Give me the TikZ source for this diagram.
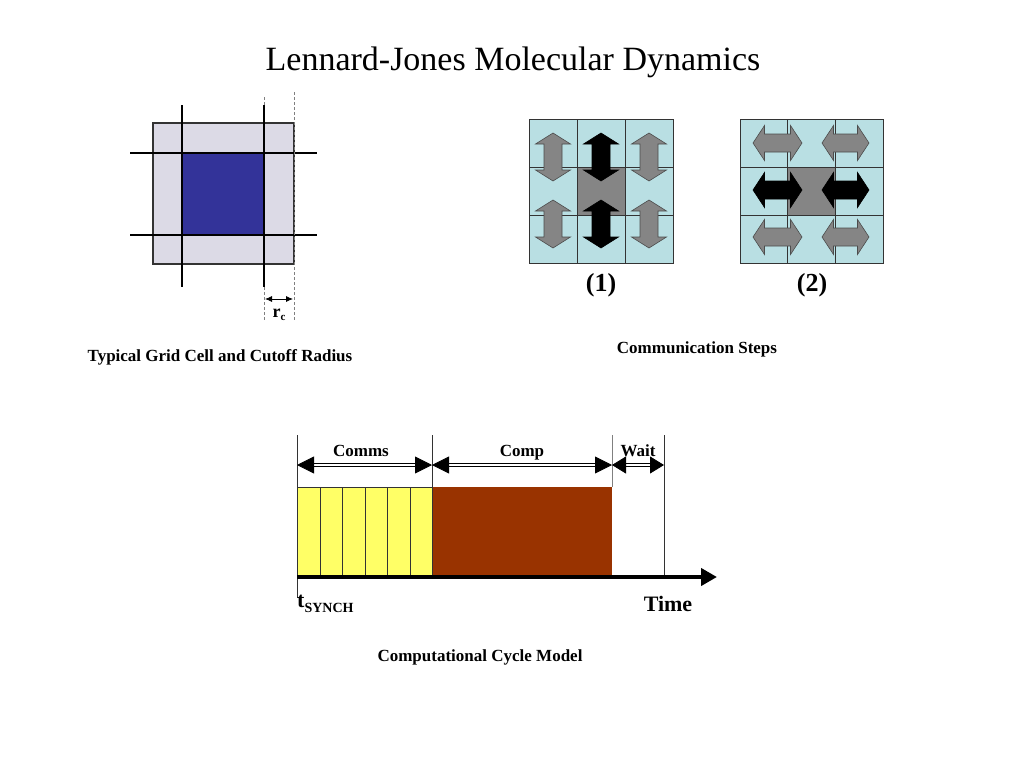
\documentclass[tikz,border=0pt]{standalone}
\usepackage{fontspec}
\setmainfont{Liberation Serif}
\usetikzlibrary{arrows.meta}
\definecolor{lav}{HTML}{DCDAE6}
\definecolor{dkblue}{HTML}{333399}
\definecolor{ltblue}{HTML}{B9DFE3}
\definecolor{midgray}{HTML}{858585}
\definecolor{yel}{HTML}{FFFF66}
\definecolor{brn}{HTML}{993300}
\newcommand\vdarr[4]{%
 \filldraw[#1] (#2,#3) -- ({#2+17.5},{#3+11}) -- ({#2+9},{#3+11}) -- ({#2+9},{#4-11}) -- ({#2+17.5},{#4-11}) -- (#2,#4) -- ({#2-17.5},{#4-11}) -- ({#2-9},{#4-11}) -- ({#2-9},{#3+11}) -- ({#2-17.5},{#3+11}) -- cycle;}
\newcommand\hdarr[4]{%
 \filldraw[#1] (#3,#2) -- ({#3+11.5},{#2-17.5}) -- ({#3+11.5},{#2-9}) -- ({#4-11.5},{#2-9}) -- ({#4-11.5},{#2-17.5}) -- (#4,#2) -- ({#4-11.5},{#2+17.5}) -- ({#4-11.5},{#2+9}) -- ({#3+11.5},{#2+9}) -- ({#3+11.5},{#2+17.5}) -- cycle;}
\tikzset{
 titletext/.style={font=\fontsize{34}{40}\selectfont, inner sep=0pt},
 captext/.style={font=\fontsize{17}{20}\selectfont\bfseries, inner sep=0pt},
 numtext/.style={font=\fontsize{26}{30}\selectfont\bfseries, inner sep=0pt},
 gridline/.style={line width=2pt, black},
 dashline/.style={gray, dashed, dash pattern=on 3pt off 2pt, line width=0.6pt},
 cell/.style={draw=black!80, line width=0.8pt, fill=ltblue},
 grayarr/.style={fill=midgray, draw=black!70, line width=0.6pt},
 blackarr/.style={fill=black, draw=black, line width=0.6pt},
 dblarrow/.style={double, double distance=2.5pt, line width=0.8pt,
   {Triangle[length=17pt,width=17pt]}-{Triangle[length=17pt,width=17pt]}},
 dblarrowsm/.style={double, double distance=2.5pt, line width=0.8pt,
   {Triangle[length=14pt,width=17pt]}-{Triangle[length=14pt,width=17pt]}},
 tick/.style={line width=0.8pt, black!80},
}
\begin{document}
\begin{tikzpicture}[x=1pt,y=-1pt]
\fill[white] (0,0) rectangle (1024,768);
\useasboundingbox (0,0) rectangle (1024,768);

% title
\node[titletext] (title) at (513,62) {Lennard-Jones Molecular Dynamics};

% ---- grid cell and cutoff radius ----
\filldraw[fill=lav, draw=black!80, line width=1.2pt] (153,123) rectangle (294,264);
\fill[dkblue] (182,153) rectangle (264,235);
\draw[gridline] (182,105) -- (182,287);
\draw[gridline] (264,105) -- (264,287);
\draw[gridline] (130,153) -- (317,153);
\draw[gridline] (130,235) -- (317,235);
\draw[dashline] (264,97) -- (264,105);
\draw[dashline] (264,287) -- (264,320);
\draw[dashline] (294,92) -- (294,320);
\coordinate (rc0) at (265,299);
\coordinate (rc1) at (293,299);
\draw[line width=0.8pt, {Latex[length=7pt,width=6pt]}-{Latex[length=7pt,width=6pt]}] (rc0) -- (rc1);
\node[inner sep=0pt, font=\fontsize{18}{18}\selectfont\bfseries] (rc) at (279,315) {r\raisebox{-3pt}{\fontsize{11}{11}\selectfont c}};
\node[captext] (cap1) at (220,357) {Typical Grid Cell and Cutoff Radius};

% ---- communication step (1) ----
\foreach \i in {0,1,2} \foreach \j in {0,1,2}
  \draw[cell] ({529+48*\i},{119+48*\j}) rectangle +(48,48);
\filldraw[cell, fill=midgray] (577,167) rectangle +(48,48);
\vdarr{grayarr}{553}{133}{181}
\vdarr{grayarr}{553}{200}{248}
\vdarr{grayarr}{649}{133}{181}
\vdarr{grayarr}{649}{200}{248}
\vdarr{blackarr}{601}{133}{181}
\vdarr{blackarr}{601}{200}{248}
\node[numtext] (n1) at (601,285) {(1)};

% ---- communication step (2) ----
\foreach \i in {0,1,2} \foreach \j in {0,1,2}
  \draw[cell] ({740+47.67*\i},{119+48*\j}) rectangle +(47.67,48);
\filldraw[cell, fill=midgray] (787.67,167) rectangle +(47.67,48);
\hdarr{grayarr}{143}{753}{802}
\hdarr{grayarr}{143}{822}{869}
\hdarr{blackarr}{190}{753}{802}
\hdarr{blackarr}{190}{822}{869}
\hdarr{grayarr}{237}{753}{802}
\hdarr{grayarr}{237}{822}{869}
\node[numtext] (n2) at (812,285) {(2)};
\node[captext] (cap2) at (697,349) {Communication Steps};

% ---- computational cycle ----
\fill[yel] (297,487) rectangle (432,577);
\foreach \x in {320,342.5,365,387.5,410}
  \draw[tick] (\x,487) -- (\x,577);
\draw[tick] (297,487) -- (432,487);
\fill[brn] (432,487) rectangle (612,577);
\draw[tick] (297,435) -- (297,598);
\draw[tick] (432,435) -- (432,577);
\draw[tick, black!50] (612,435) -- (612,487);
\draw[tick] (664,435) -- (664,577);
\coordinate (t0) at (297,465);
\coordinate (t1) at (432,465);
\coordinate (t2) at (612,465);
\coordinate (t3) at (664,465);
\draw[dblarrow] (t0) -- (t1);
\draw[dblarrow] (t1) -- (t2);
\draw[dblarrowsm] (t2) -- (t3);
\node[captext, anchor=base] (comms) at (361,456) {Comms};
\node[captext, anchor=base] (comp) at (522,456) {Comp};
\node[captext, anchor=base] (wait) at (638,456) {Wait};
\coordinate (ax0) at (297,577);
\coordinate (ax1) at (717,577);
\draw[line width=4pt, -{Triangle[length=16pt,width=17pt]}] (ax0) -- (ax1);
\node[inner sep=0pt, anchor=west, font=\fontsize{22}{22}\selectfont\bfseries] (ts) at (297,604) {t\raisebox{-5pt}{\fontsize{14}{14}\selectfont SYNCH}};
\node[inner sep=0pt, font=\fontsize{22}{22}\selectfont\bfseries] (time) at (668,604) {Time};
\node[captext] (cap3) at (480,657) {Computational Cycle Model};
\end{tikzpicture}
\end{document}
